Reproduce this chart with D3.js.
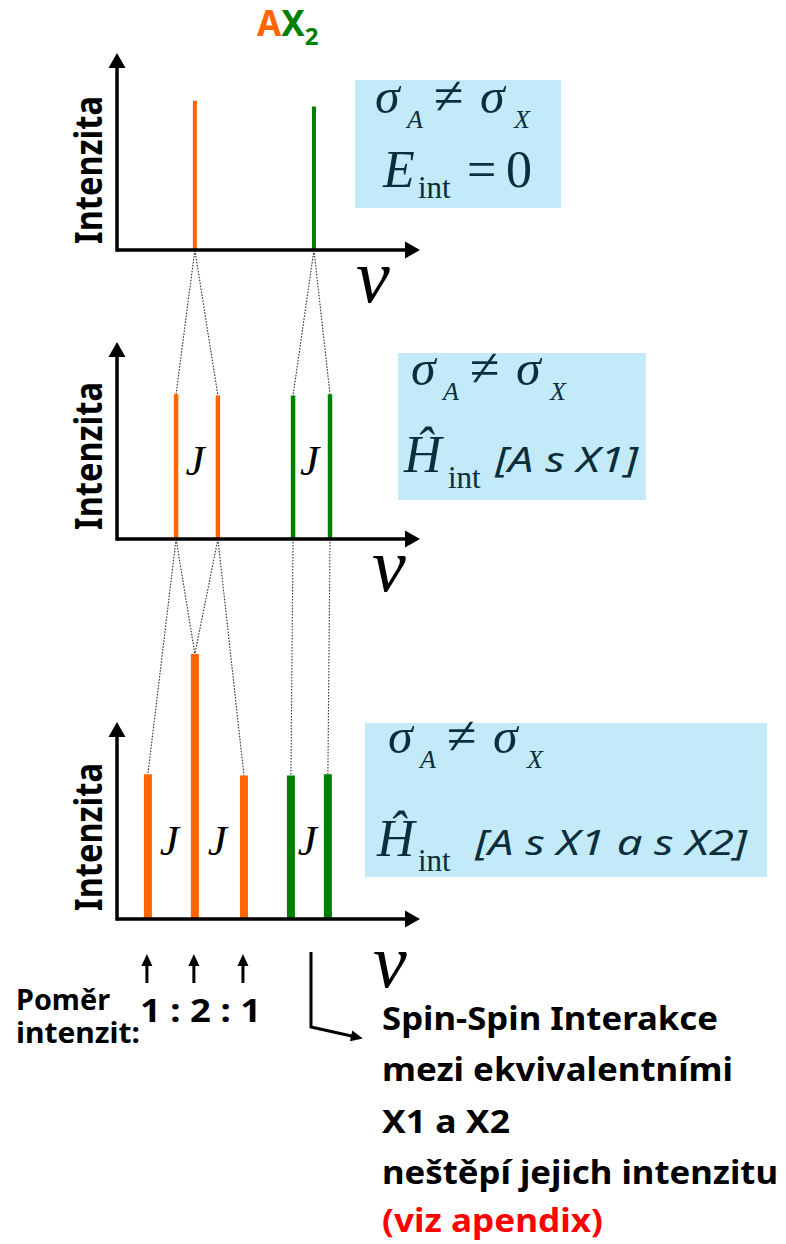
<!DOCTYPE html>
<html>
<head>
<meta charset="utf-8">
<script src="https://cdn.jsdelivr.net/npm/d3@7"></script>
<style>
  body { margin: 0; background: #fff; }
  svg { display: block; }
  .serif { font-family: "Liberation Serif", "DejaVu Serif", serif; }
  .sans { font-family: "Noto Sans", "Open Sans", sans-serif; }
</style>
</head>
<body>
<svg id="chart" width="786" height="1244"></svg>
<script>
// peak positions (frequency, arbitrary units 0..100) and relative intensities
const p1Freq = [25.7, 65.0];
const p1Int = [1.03, 0.99];
const p1Nuc = ["A", "X"];

const p2Freq = [19.5, 33.3, 58.1, 70.3];
const p2Int = [1.0, 0.99, 0.99, 1.0];
const p2Nuc = ["A", "A", "X", "X"];

const p3Freq = [10.2, 25.7, 41.9, 57.4, 69.6];
const p3Int = [1.0, 1.83, 0.99, 0.99, 1.0];
const p3Nuc = ["A", "A", "A", "X", "X"];

// which peak splits into which (upper index -> lower index)
const links12 = [[0, 0], [0, 1], [1, 2], [1, 3]];
const links23 = [[0, 0], [0, 1], [1, 1], [1, 2], [2, 3], [3, 4]];

// J labels sit between these peak pairs
const jPairs2 = [[0, 1], [2, 3]];
const jPairs3 = [[0, 1], [1, 2], [3, 4]];

const ratioPeaks = [0, 1, 2];
const ratioLabel = "1 : 2 : 1";

const noteLines = ["Spin-Spin Interakce", "mezi ekvivalentními", "X1 a X2", "neštěpí jejich intenzitu"];
const noteWidths = [336, 351, 128, 396];
const noteRed = "(viz apendix)";

const ORANGE = "#ff6600";
const GREEN = "#008000";
const BOX_FILL = "#c3eaf9";
const MATH = "#0b2d3c";

var svg = d3.select("#chart");

const defs = svg.append("defs");
defs.append("marker")
  .attr("id", "arrow")
  .attr("markerUnits", "userSpaceOnUse")
  .attr("markerWidth", 20).attr("markerHeight", 20)
  .attr("viewBox", "-2 -10 20 20")
  .attr("refX", 6).attr("refY", 0)
  .attr("orient", "auto")
  .append("path")
  .attr("d", "M0,-8.5L15,0L0,8.5Z")
  .attr("fill", "#000");
defs.append("marker")
  .attr("id", "arrowSmall")
  .attr("markerUnits", "userSpaceOnUse")
  .attr("markerWidth", 16).attr("markerHeight", 16)
  .attr("viewBox", "-2 -8 16 16")
  .attr("refX", 5).attr("refY", 0)
  .attr("orient", "auto")
  .append("path")
  .attr("d", "M0,-5.5L12,0L0,5.5Z")
  .attr("fill", "#000");

// shared frequency scale
const xScale = d3.scaleLinear().domain([0, 100]).range([117, 420]);

const panels = [
  { freq: p1Freq, inten: p1Int, nuc: p1Nuc, axisY: 250, width: 4, nuX: 356, nuY: 302, labelY: 170 },
  { freq: p2Freq, inten: p2Int, nuc: p2Nuc, axisY: 539, width: 4.5, nuX: 372, nuY: 591, labelY: 456 },
  { freq: p3Freq, inten: p3Int, nuc: p3Nuc, axisY: 919, width: 8, nuX: 373, nuY: 987, labelY: 837 }
];

panels.forEach((p) => {
  p.yScale = d3.scaleLinear().domain([0, 1.36]).range([p.axisY, p.axisY - 197]);
});

// dotted connectors between panels
function drawLinks(upper, lower, links) {
  svg.append("g")
    .selectAll("line")
    .data(links)
    .enter()
    .append("line")
    .attr("x1", (d) => xScale(upper.freq[d[0]]))
    .attr("y1", upper.axisY)
    .attr("x2", (d) => xScale(lower.freq[d[1]]))
    .attr("y2", (d) => lower.yScale(lower.inten[d[1]]))
    .attr("stroke", "#333")
    .attr("stroke-width", 1.1)
    .attr("stroke-dasharray", "1.6,1.4");
}
drawLinks(panels[0], panels[1], links12);
drawLinks(panels[1], panels[2], links23);

panels.forEach((p) => {
  const g = svg.append("g");
  const x0 = xScale.range()[0];

  // peaks
  g.selectAll("line.peak")
    .data(p.freq)
    .enter()
    .append("line")
    .attr("class", "peak")
    .attr("x1", (d) => xScale(d))
    .attr("x2", (d) => xScale(d))
    .attr("y1", p.yScale(0))
    .attr("y2", (d, i) => p.yScale(p.inten[i]))
    .attr("stroke", (d, i) => (p.nuc[i] === "A" ? ORANGE : GREEN))
    .attr("stroke-width", p.width);

  // axes (no ticks, arrow heads)
  g.append("line")
    .attr("x1", x0).attr("y1", p.yScale(0))
    .attr("x2", xScale.range()[1] - 9).attr("y2", p.yScale(0))
    .attr("stroke", "#000").attr("stroke-width", 3.5)
    .attr("marker-end", "url(#arrow)");
  g.append("line")
    .attr("x1", x0).attr("y1", p.yScale(0) + 1.75)
    .attr("x2", x0).attr("y2", p.yScale(1.36) + 9)
    .attr("stroke", "#000").attr("stroke-width", 3.5)
    .attr("marker-end", "url(#arrow)");

  g.append("text")
    .attr("class", "sans")
    .attr("transform", `translate(102, ${p.labelY}) rotate(-90)`)
    .attr("text-anchor", "middle")
    .attr("font-size", 38)
    .attr("font-weight", 700)
    .attr("textLength", 148)
    .attr("lengthAdjust", "spacingAndGlyphs")
    .text("Intenzita");

  g.append("text")
    .attr("class", "serif")
    .attr("x", p.nuX).attr("y", p.nuY)
    .attr("font-size", 76)
    .attr("font-style", "italic")
    .text("ν");
});

// J labels
function drawJ(p, pairs, dy) {
  svg.append("g")
    .selectAll("text")
    .data(pairs)
    .enter()
    .append("text")
    .attr("class", "serif")
    .attr("x", (d) => (xScale(p.freq[d[0]]) + xScale(p.freq[d[1]])) / 2 - 2)
    .attr("y", p.yScale(0) + dy)
    .attr("text-anchor", "middle")
    .attr("font-style", "italic")
    .attr("font-size", 43)
    .text("J");
}
drawJ(panels[1], jPairs2, -64);
drawJ(panels[2], jPairs3, -64);

// title AX2
const title = svg.append("text")
  .attr("class", "sans")
  .attr("x", 257).attr("y", 36)
  .attr("font-size", 35)
  .attr("font-weight", 700);
title.append("tspan").attr("fill", ORANGE).text("A");
title.append("tspan").attr("fill", GREEN).text("X");
title.append("tspan").attr("fill", GREEN).attr("font-size", 24).attr("dy", 9).text("2");

// info boxes
const boxes = [
  { x: 355, y: 80, w: 206, h: 128 },
  { x: 398, y: 353, w: 248, h: 147 },
  { x: 365, y: 723, w: 402, h: 154 }
];
svg.append("g")
  .selectAll("rect")
  .data(boxes)
  .enter()
  .append("rect")
  .attr("x", (d) => d.x).attr("y", (d) => d.y)
  .attr("width", (d) => d.w).attr("height", (d) => d.h)
  .attr("fill", BOX_FILL);

function mathText(x, y, size, str, italic) {
  return svg.append("text")
    .attr("class", "serif")
    .attr("x", x).attr("y", y)
    .attr("font-size", size)
    .attr("font-style", italic ? "italic" : "normal")
    .attr("fill", MATH)
    .text(str);
}
function sigmaLine(x, y) {
  mathText(x - 2, y, 50, "σ", true);
  mathText(x + 30, y + 15, 26, "A", true);
  mathText(x + 57, y + 1, 54, "≠", false);
  mathText(x + 103, y, 50, "σ", true);
  mathText(x + 137, y + 15, 26, "X", true);
}
sigmaLine(377, 113);
sigmaLine(413, 385);
sigmaLine(390, 753);

mathText(383, 187, 52, "E", true);
mathText(418, 198, 31, "int", false);
mathText(467, 187, 52, "=", false);
mathText(506, 187, 52, "0", false);

function sansItalic(x, y, str, len) {
  svg.append("text")
    .attr("class", "sans")
    .attr("x", x).attr("y", y)
    .attr("font-size", 35)
    .attr("font-style", "italic")
    .attr("fill", MATH)
    .attr("textLength", len).attr("lengthAdjust", "spacingAndGlyphs")
    .text(str);
}

mathText(404, 472, 52, "Ĥ", true);
mathText(448, 488, 31, "int", false);
sansItalic(495, 472, "[A s X1]", 143);

mathText(377, 856, 52, "Ĥ", true);
mathText(418, 871, 31, "int", false);
sansItalic(475, 855, "[A s X1 a s X2]", 272);

// intensity ratio arrows
const p3 = panels[2];
svg.append("g")
  .selectAll("line")
  .data(ratioPeaks)
  .enter()
  .append("line")
  .attr("x1", (d) => xScale(p3.freq[d]) - 1)
  .attr("x2", (d) => xScale(p3.freq[d]) - 1)
  .attr("y1", 983)
  .attr("y2", 961)
  .attr("stroke", "#000").attr("stroke-width", 3)
  .attr("marker-end", "url(#arrowSmall)");

svg.append("text")
  .attr("class", "sans")
  .attr("x", 140).attr("y", 1022)
  .attr("font-size", 32)
  .attr("font-weight", 700)
  .attr("textLength", 121).attr("lengthAdjust", "spacingAndGlyphs")
  .text(ratioLabel);

svg.append("text")
  .attr("class", "sans")
  .attr("x", 16).attr("y", 1010)
  .attr("font-size", 28)
  .attr("font-weight", 700)
  .attr("textLength", 94).attr("lengthAdjust", "spacingAndGlyphs")
  .text("Poměr");
svg.append("text")
  .attr("class", "sans")
  .attr("x", 16).attr("y", 1043)
  .attr("font-size", 28)
  .attr("font-weight", 700)
  .attr("textLength", 124).attr("lengthAdjust", "spacingAndGlyphs")
  .text("intenzit:");

// bent arrow to the note
svg.append("path")
  .attr("d", "M311,952L311,1027L356,1037")
  .attr("fill", "none")
  .attr("stroke", "#000").attr("stroke-width", 3)
  .attr("marker-end", "url(#arrowSmall)");

svg.append("g")
  .selectAll("text")
  .data(noteLines)
  .enter()
  .append("text")
  .attr("class", "sans")
  .attr("x", 382)
  .attr("y", (d, i) => 1030 + i * 51.3)
  .attr("font-size", 33)
  .attr("font-weight", 700)
  .attr("textLength", (d, i) => noteWidths[i])
  .attr("lengthAdjust", "spacingAndGlyphs")
  .text((d) => d);
svg.append("text")
  .attr("class", "sans")
  .attr("x", 382).attr("y", 1232)
  .attr("font-size", 33)
  .attr("font-weight", 700)
  .attr("fill", "#ff0000")
  .attr("textLength", 221).attr("lengthAdjust", "spacingAndGlyphs")
  .text(noteRed);
</script>
</body>
</html>
